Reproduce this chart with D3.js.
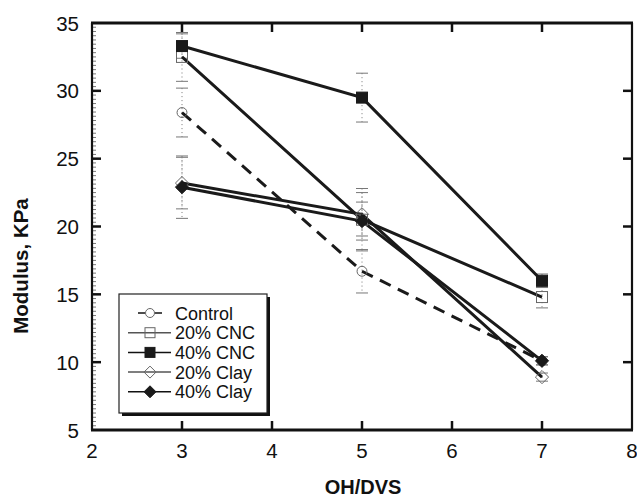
<!DOCTYPE html>
<html>
<head>
<meta charset="utf-8">
<script src="https://cdn.jsdelivr.net/npm/d3@7"></script>
<style>
  body { margin: 0; background: #fff; }
  text { font-family: "Liberation Sans", Arial, sans-serif; fill: #111; }
</style>
</head>
<body>
<svg width="637" height="498"></svg>
<script>
// data
const ratios = [3, 5, 7];
const seriesNames = ["Control", "20% CNC", "40% CNC", "20% Clay", "40% Clay"];
const control = [28.4, 16.7, 10.1];
const controlErr = [1.8, 1.6, 0.3];
const cnc20 = [32.5, 20.5, 14.8];
const cnc20Err = [1.8, 2.3, 0.8];
const cnc40 = [33.3, 29.5, 16.0];
const cnc40Err = [0.9, 1.8, 0.5];
const clay20 = [23.2, 20.9, 8.9];
const clay20Err = [1.9, 1.6, 0.3];
const clay40 = [22.9, 20.4, 10.1];
const clay40Err = [2.3, 1.4, 0.3];
const xTicks = [2, 3, 4, 5, 6, 7, 8];
const yTicks = [5, 10, 15, 20, 25, 30, 35];

const series = [
	{ name: seriesNames[0], values: control, err: controlErr, marker: "circle", filled: false, dashed: true },
	{ name: seriesNames[1], values: cnc20, err: cnc20Err, marker: "square", filled: false, dashed: false },
	{ name: seriesNames[2], values: cnc40, err: cnc40Err, marker: "square", filled: true, dashed: false },
	{ name: seriesNames[3], values: clay20, err: clay20Err, marker: "diamond", filled: false, dashed: false },
	{ name: seriesNames[4], values: clay40, err: clay40Err, marker: "diamond", filled: true, dashed: false },
];

const svg = d3.select("svg");
const pLeft = 92, pRight = 632, pTop = 23, pBottom = 430;

const x = d3.scaleLinear().domain([2, 8]).range([pLeft, pRight]);
const y = d3.scaleLinear().domain([5, 35]).range([pBottom, pTop]);

//minor ticks on the left axis
const minor = d3.range(5, 35.001, 5 / 16);
svg.append("g")
	.selectAll("line")
	.data(minor)
	.enter()
	.append("line")
	.attr("x1", pLeft - 1)
	.attr("x2", pLeft + 4)
	.attr("y1", (d) => y(d))
	.attr("y2", (d) => y(d))
	.attr("stroke", "#555")
	.attr("stroke-width", 0.8);

//major ticks, inside on all four sides
const tickLen = 9;
const frame = svg.append("g").attr("stroke", "#111");
xTicks.slice(1, -1).forEach((t) => {
	frame.append("line").attr("x1", x(t)).attr("x2", x(t))
		.attr("y1", pBottom).attr("y2", pBottom - tickLen).attr("stroke-width", 2.5);
	frame.append("line").attr("x1", x(t)).attr("x2", x(t))
		.attr("y1", pTop).attr("y2", pTop + tickLen).attr("stroke-width", 2.5);
});
yTicks.slice(1, -1).forEach((t) => {
	frame.append("line").attr("x1", pLeft).attr("x2", pLeft + tickLen)
		.attr("y1", y(t)).attr("y2", y(t)).attr("stroke-width", 2.5);
	frame.append("line").attr("x1", pRight).attr("x2", pRight - tickLen)
		.attr("y1", y(t)).attr("y2", y(t)).attr("stroke-width", 2.5);
});

//frame
frame.append("line").attr("x1", pLeft - 1).attr("x2", pRight + 1).attr("y1", pTop).attr("y2", pTop).attr("stroke-width", 3);
frame.append("line").attr("x1", pLeft - 1).attr("x2", pRight + 1).attr("y1", pBottom).attr("y2", pBottom).attr("stroke-width", 3);
frame.append("line").attr("x1", pLeft).attr("x2", pLeft).attr("y1", pTop).attr("y2", pBottom).attr("stroke-width", 2.2);
frame.append("line").attr("x1", pRight).attr("x2", pRight).attr("y1", pTop).attr("y2", pBottom).attr("stroke-width", 2.2);

//tick labels
svg.append("g")
	.selectAll("text")
	.data(xTicks)
	.enter()
	.append("text")
	.attr("x", (d) => x(d))
	.attr("y", 458)
	.attr("text-anchor", "middle")
	.style("font-size", "20.5px")
	.text((d) => d);

svg.append("g")
	.selectAll("text")
	.data(yTicks)
	.enter()
	.append("text")
	.attr("x", 79)
	.attr("y", (d) => y(d) + 7.5)
	.attr("text-anchor", "end")
	.style("font-size", "20.5px")
	.text((d) => d);

//axis titles
svg.append("text")
	.attr("x", 363)
	.attr("y", 494)
	.attr("text-anchor", "middle")
	.style("font-size", "20px")
	.style("font-weight", "bold")
	.text("OH/DVS");

svg.append("text")
	.attr("transform", "translate(28,266) rotate(-90)")
	.attr("text-anchor", "middle")
	.style("font-size", "20.5px")
	.style("font-weight", "bold")
	.text("Modulus, KPa");

//error bars
const plot = svg.append("g");
series.forEach((s) => {
	const eg = plot.append("g").attr("stroke", "#777");
	s.values.forEach((v, i) => {
		const cx = x(ratios[i]);
		const hi = Math.min(v + s.err[i], 35), lo = v - s.err[i];
		eg.append("line").attr("x1", cx).attr("x2", cx)
			.attr("y1", y(hi)).attr("y2", y(lo))
			.attr("stroke-width", 1).attr("stroke-dasharray", "1,3");
		[hi, lo].forEach((e) => {
			eg.append("line").attr("x1", cx - 6).attr("x2", cx + 6)
				.attr("y1", y(e)).attr("y2", y(e)).attr("stroke-width", 1);
		});
	});
});

//lines
const line = d3.line().x((d, i) => x(ratios[i])).y((d) => y(d));
series.forEach((s) => {
	plot.append("path")
		.datum(s.values)
		.attr("d", line)
		.attr("fill", "none")
		.attr("stroke", "#1a1a1a")
		.attr("stroke-width", 3)
		.attr("stroke-dasharray", s.dashed ? "12,8" : null);
});

//markers
function drawMarker(g, type, filled, cx, cy, size) {
	let m;
	if (type === "circle") {
		m = g.append("circle").attr("cx", cx).attr("cy", cy).attr("r", size * 0.45);
	} else if (type === "square") {
		m = g.append("rect").attr("x", cx - size / 2).attr("y", cy - size / 2)
			.attr("width", size).attr("height", size);
	} else {
		const r = size * 0.6;
		m = g.append("path").attr("d",
			"M" + cx + "," + (cy - r) + "L" + (cx + r) + "," + cy + "L" + cx + "," + (cy + r) + "L" + (cx - r) + "," + cy + "Z");
	}
	if (filled) {
		m.attr("fill", "#1a1a1a").attr("stroke", "#1a1a1a").attr("stroke-width", 1);
	} else {
		m.attr("fill", "none").attr("stroke", "#666").attr("stroke-width", 1);
	}
}

series.forEach((s) => {
	const mg = plot.append("g");
	s.values.forEach((v, i) => drawMarker(mg, s.marker, s.filled, x(ratios[i]), y(v), 11));
});

//legend
const lg = svg.append("g");
const lx = 119, ly = 294, lw = 148, lh = 119;
lg.append("rect").attr("x", lx + 3).attr("y", ly + 3).attr("width", lw).attr("height", lh).attr("fill", "#111");
lg.append("rect").attr("x", lx).attr("y", ly).attr("width", lw).attr("height", lh)
	.attr("fill", "#fff").attr("stroke", "#222").attr("stroke-width", 1.2);

series.forEach((s, i) => {
	const ry = 313 + i * 19.7;
	const row = lg.append("g");
	const col = (s.filled ? "#111" : "#555");
	if (s.dashed) {
		row.append("line").attr("x1", 138).attr("x2", 145).attr("y1", ry).attr("y2", ry)
			.attr("stroke", "#111").attr("stroke-width", 1.5);
		row.append("line").attr("x1", 155).attr("x2", 162).attr("y1", ry).attr("y2", ry)
			.attr("stroke", "#111").attr("stroke-width", 1.5);
	} else {
		row.append("line").attr("x1", 128).attr("x2", 171).attr("y1", ry).attr("y2", ry)
			.attr("stroke", col).attr("stroke-width", 1.5);
	}
	drawMarker(row, s.marker, s.filled, 150, ry, 10);
	row.append("text")
		.attr("x", 175)
		.attr("y", ry + 6.5)
		.style("font-size", "18px")
		.text(s.name);
});
</script>
</body>
</html>
